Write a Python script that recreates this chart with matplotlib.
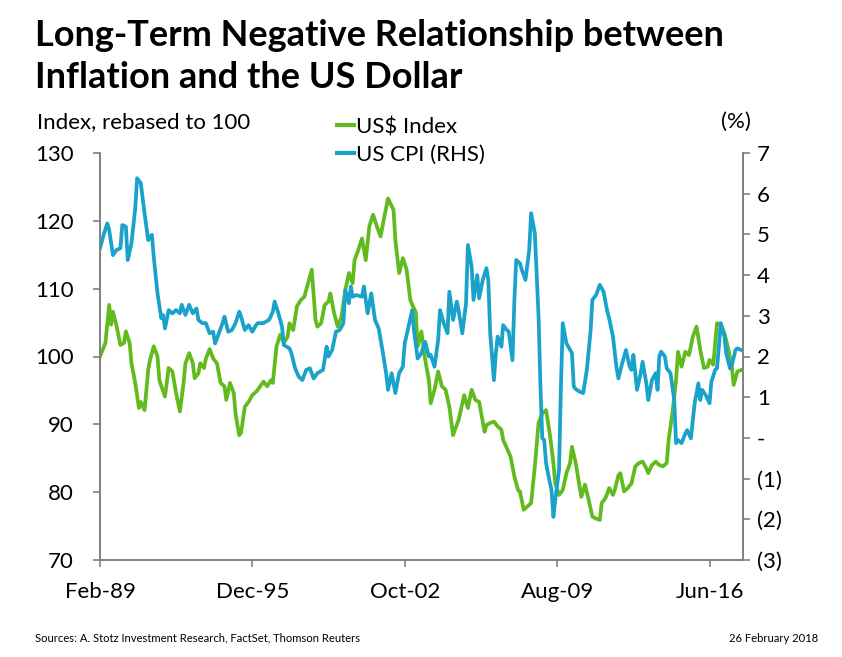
import pandas as pd
import matplotlib.pyplot as plt
from matplotlib.lines import Line2D

plt.rcParams['font.family'] = ['Lato', 'DejaVu Sans']

# dados (mês contado a partir de Fev-89)
inicio = pd.Timestamp('1989-02-01')

usd_mes = [0, 3, 5, 6, 7, 9, 11, 13, 14, 16, 17, 19, 21, 22, 24, 26, 27, 29, 31, 32,
           35, 37, 39, 41, 43, 45, 46, 48, 50, 51, 53, 54, 56, 57, 59, 61, 63, 65, 67, 68,
           70, 72, 73, 75, 76, 78, 80, 82, 84, 85, 88, 90, 92, 93, 95, 97, 99, 101, 102, 104,
           106, 108, 110, 112, 114, 116, 117, 119, 121, 123, 124, 126, 128, 130, 132, 134, 136, 137, 139, 141,
           143, 145, 147, 149, 151, 153, 155, 158, 159, 161, 163, 165, 167, 170, 171, 173, 175, 177, 178, 180,
           182, 184, 186, 188, 190, 191, 193, 196, 198, 200, 202, 204, 207, 208, 210, 212, 214, 216, 217, 219,
           221, 223, 225, 226, 228, 230, 232, 234, 236, 238, 240, 242, 244, 245, 247, 249, 251, 253, 254, 256,
           258, 259, 261, 263, 265, 267, 269, 270, 272, 274, 276, 277, 279, 280, 282, 284, 286, 288, 290, 292,
           294, 295, 297, 299, 301, 303, 305, 306, 308, 310, 311, 313, 315, 317, 319, 321, 323, 325, 327, 328,
           330, 332, 334, 336, 338, 340, 341, 343, 345]
usd_valor = [100.0, 102.0, 107.6, 104.7, 106.6, 104.4, 101.7, 102.0, 103.7, 102.0, 99.0, 96.1, 92.4, 93.3, 92.1, 98.0, 99.5, 101.5, 100.0, 96.5,
             94.1, 98.3, 97.8, 94.6, 91.9, 96.1, 99.0, 100.5, 99.0, 96.8, 97.5, 99.0, 98.3, 99.7, 101.1, 99.7, 99.0, 96.1, 95.6, 93.6,
             96.1, 94.6, 91.6, 88.4, 88.8, 92.6, 93.3, 94.3, 94.8, 95.1, 96.3, 95.6, 96.5, 96.1, 101.5, 103.2, 102.0, 102.9, 104.9, 103.9,
             107.4, 108.3, 108.8, 110.8, 112.8, 105.4, 104.4, 104.9, 107.6, 108.1, 109.3, 106.4, 104.4, 105.9, 109.8, 112.3, 110.8, 114.2, 115.7, 117.4,
             114.2, 119.2, 120.9, 119.2, 117.7, 120.6, 123.3, 121.6, 117.2, 112.3, 114.5, 112.8, 108.3, 106.5, 101.5, 103.7, 99.5, 96.5, 93.1, 95.1,
             97.8, 95.6, 95.1, 92.6, 88.4, 89.2, 90.6, 94.3, 92.4, 95.1, 93.6, 93.3, 88.9, 89.9, 90.2, 90.4, 89.7, 89.2, 87.7, 86.5,
             85.2, 82.3, 80.3, 80.1, 77.4, 77.9, 78.4, 83.8, 90.2, 91.6, 92.1, 88.7, 84.3, 81.3, 79.6, 80.3, 82.8, 84.3, 86.7, 84.3,
             81.0, 79.3, 81.1, 78.8, 76.4, 76.1, 75.9, 78.4, 79.1, 80.6, 79.6, 80.3, 82.5, 82.8, 80.1, 80.6, 81.3, 83.8, 84.3, 84.5,
             83.5, 82.8, 84.0, 84.5, 84.0, 83.8, 84.3, 87.7, 91.6, 96.5, 100.7, 98.5, 100.7, 100.2, 102.9, 104.4, 101.0, 98.3, 98.5, 99.5,
             98.8, 104.9, 104.7, 103.4, 101.2, 98.5, 95.8, 97.8, 98.0]

cpi_mes = [0, 2, 4, 5, 7, 9, 11, 12, 14, 15, 17, 19, 20, 22, 24, 26, 28, 29, 31, 33,
           34, 35, 37, 39, 41, 43, 44, 46, 48, 50, 52, 53, 55, 57, 59, 61, 62, 64, 66, 67,
           69, 71, 73, 75, 76, 78, 80, 82, 84, 85, 88, 91, 93, 94, 96, 98, 99, 102, 103, 105,
           107, 109, 111, 113, 115, 117, 120, 122, 123, 125, 127, 129, 131, 132, 134, 135, 136, 138, 141, 142,
           144, 146, 148, 150, 152, 154, 155, 157, 159, 161, 163, 164, 166, 168, 169, 171, 173, 175, 177, 178,
           180, 182, 183, 185, 187, 188, 190, 192, 193, 195, 197, 198, 200, 201, 203, 204, 206, 208, 209, 210,
           212, 213, 214, 216, 217, 219, 220, 222, 223, 224, 226, 227, 229, 231, 232, 234, 236, 237, 238, 239,
           240, 242, 243, 244, 245, 247, 248, 249, 251, 252, 254, 255, 256, 258, 260, 262, 264, 265, 267, 269,
           271, 273, 274, 276, 278, 279, 281, 283, 285, 286, 287, 289, 291, 292, 294, 295, 297, 299, 300, 301,
           302, 304, 305, 307, 309, 310, 311, 313, 315, 316, 318, 319, 320, 322, 323, 324, 326, 328, 329, 331,
           332, 333, 334, 336, 337, 339, 340, 342, 343, 345]
cpi_valor = [4.66, 4.99, 5.27, 5.11, 4.49, 4.62, 4.66, 5.23, 5.19, 4.37, 4.78, 5.64, 6.38, 6.26, 5.51, 4.86, 4.99, 4.45, 3.55, 2.94,
             3.02, 2.69, 3.14, 3.06, 3.14, 3.06, 3.27, 3.02, 3.27, 3.06, 3.18, 2.90, 2.82, 2.82, 2.57, 2.61, 2.32, 2.57, 2.82, 2.98,
             2.61, 2.65, 2.82, 3.10, 2.98, 2.65, 2.77, 2.61, 2.77, 2.82, 2.82, 2.90, 3.10, 3.35, 3.06, 2.73, 2.28, 2.20, 2.08, 1.71,
             1.50, 1.42, 1.67, 1.71, 1.46, 1.59, 1.67, 2.24, 2.00, 2.16, 2.61, 2.65, 2.82, 3.63, 3.31, 3.72, 3.47, 3.51, 3.47, 3.72,
             3.06, 3.55, 2.90, 2.69, 2.16, 1.59, 1.18, 1.59, 1.10, 1.59, 1.75, 2.32, 2.73, 3.14, 2.65, 1.95, 2.08, 2.36, 2.00, 2.04,
             1.75, 2.41, 3.14, 2.82, 2.57, 3.59, 2.90, 3.35, 3.14, 2.57, 3.31, 4.74, 4.21, 3.39, 4.00, 3.43, 3.88, 4.17, 3.88, 2.57,
             1.42, 2.08, 2.49, 2.24, 2.77, 2.65, 2.61, 1.91, 3.39, 4.37, 4.29, 4.13, 3.88, 4.62, 5.52, 5.03, 2.98, 1.26, -0.01, -0.05,
             -0.62, -1.08, -1.28, -1.94, -1.53, -0.79, 1.18, 2.82, 2.32, 2.24, 2.08, 1.26, 1.20, 1.14, 1.10, 1.67, 2.65, 3.39, 3.51, 3.76,
             3.59, 3.10, 2.94, 2.49, 1.71, 1.46, 1.83, 2.16, 1.75, 1.67, 2.04, 1.18, 1.59, 1.87, 1.34, 0.93, 1.42, 1.59, 1.18, 2.00,
             2.12, 2.00, 1.71, 1.59, 0.93, -0.13, -0.05, -0.13, 0.11, 0.19, -0.01, 0.44, 0.85, 1.34, 0.93, 1.18, 1.05, 0.85, 1.38, 1.67,
             1.71, 2.24, 2.82, 2.49, 2.08, 1.71, 1.79, 2.16, 2.20, 2.16]

ticks_mes = [0, 82, 164, 246, 328]
esq_ticks = [70, 80, 90, 100, 110, 120, 130]
dir_ticks = [-3, -2, -1, 0, 1, 2, 3, 4, 5, 6, 7]
dir_labels = ['(3)', '(2)', '(1)', '-', '1', '2', '3', '4', '5', '6', '7']

verde = '#62BB1E'
azul = '#1AA3CA'
cinza = '#808080'
fonte = 16


def datas(meses):
    return [inicio + pd.DateOffset(months=m) for m in meses]


fig = plt.figure(figsize=(8.42, 6.57), dpi=100)

ax = fig.add_axes([100 / 842, 1 - 560 / 657, 643 / 842, 407 / 657])
ax2 = ax.twinx()

ax.plot(datas(usd_mes), usd_valor, color=verde, lw=2.7, solid_joinstyle='round')
ax2.plot(datas(cpi_mes), cpi_valor, color=azul, lw=2.7, solid_joinstyle='round')

ax.set_xlim(inicio, inicio + pd.DateOffset(months=346))
ax.set_ylim(70, 130)
ax2.set_ylim(-3, 7)

ax.set_xticks(datas(ticks_mes))
ax.set_xticklabels([d.strftime('%b-%y') for d in datas(ticks_mes)])
ax.set_yticks(esq_ticks)
ax2.set_yticks(dir_ticks)
ax2.set_yticklabels(dir_labels)

for a in (ax, ax2):
    a.spines['top'].set_visible(False)
    for s in ('left', 'right', 'bottom'):
        a.spines[s].set_color(cinza)
        a.spines[s].set_linewidth(1.2)
    a.tick_params(direction='out', length=5, width=1.2, color=cinza, labelsize=fonte)

ax.tick_params(axis='x', pad=11)
ax.tick_params(axis='y', pad=14)
ax2.tick_params(axis='y', pad=5)

# textos
fig.text(35 / 842, 1 - 46 / 657, 'Long-Term Negative Relationship between', fontsize=26, weight='bold', va='baseline')
fig.text(35 / 842, 1 - 88 / 657, 'Inflation and the US Dollar', fontsize=26, weight='bold', va='baseline')

fig.text(37 / 842, 1 - 122 / 657, 'Index, rebased to 100', fontsize=fonte, va='center')
fig.text(751 / 842, 1 - 122 / 657, '(%)', fontsize=fonte, va='center', ha='right')

itens = [Line2D([], [], color=verde, lw=3), Line2D([], [], color=azul, lw=3)]
fig.legend(itens, ['US$ Index', 'US CPI (RHS)'], loc='upper left', bbox_to_anchor=(326 / 842, 1 - 106 / 657),
           frameon=False, fontsize=fonte, handlelength=0.75, handletextpad=0.1, labelspacing=0.35, borderpad=0)

fig.text(35 / 842, 1 - 638 / 657, 'Sources: A. Stotz Investment Research, FactSet, Thomson Reuters', fontsize=8.1, va='center')
fig.text(818 / 842, 1 - 638 / 657, '26 February 2018', fontsize=8.1, va='center', ha='right')

plt.savefig('out.png', dpi=100)
